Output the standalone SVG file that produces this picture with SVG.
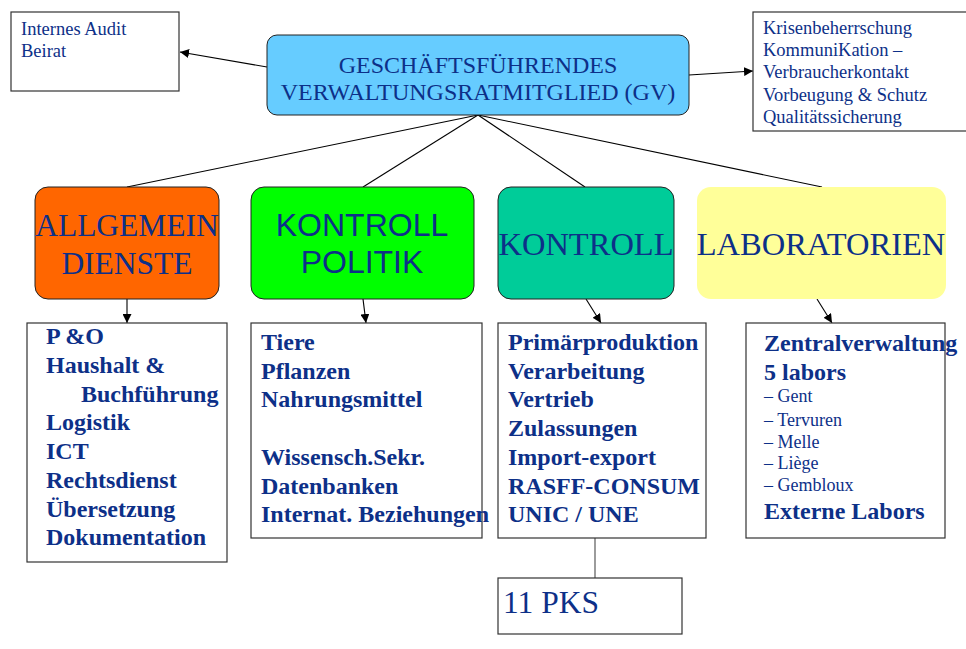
<svg xmlns="http://www.w3.org/2000/svg" width="966" height="649" viewBox="0 0 966 649">
<style>
.bx{fill:#fff;stroke:#333;stroke-width:1.2}
.rb{stroke:#222;stroke-width:1}
.t{font-family:"Liberation Serif","Times New Roman",serif;fill:#0D3088}
.s{font-family:"Liberation Sans",Arial,sans-serif;fill:#0D3088}
.b{font-weight:bold;font-size:24px}
.sm{font-size:18.5px}
.lb{font-size:18px}
.cn{stroke:#000;stroke-width:1.1;fill:none}
</style>
<defs>
<marker id="ar" viewBox="0 0 10 10" refX="10" refY="5" markerWidth="9" markerHeight="9" markerUnits="userSpaceOnUse" orient="auto">
<path d="M0,0 L10,5 L0,10 z" fill="#000"/>
</marker>
</defs>
<g id="connectors">
<line class="cn" x1="267" y1="67" x2="180" y2="52" marker-end="url(#ar)"/>
<line class="cn" x1="689" y1="75" x2="753" y2="71" marker-end="url(#ar)"/>
<line class="cn" x1="478" y1="115" x2="127" y2="187"/>
<line class="cn" x1="478" y1="115" x2="363" y2="187"/>
<line class="cn" x1="478" y1="115" x2="585" y2="187"/>
<line class="cn" x1="478" y1="115" x2="822" y2="187"/>
<line class="cn" x1="127" y1="299" x2="127" y2="323" marker-end="url(#ar)"/>
<line class="cn" x1="363" y1="299" x2="366" y2="323" marker-end="url(#ar)"/>
<line class="cn" x1="586" y1="299" x2="601" y2="323" marker-end="url(#ar)"/>
<line class="cn" x1="817" y1="299" x2="832" y2="323" marker-end="url(#ar)"/>
<line x1="595" y1="538" x2="595" y2="578" stroke="#666" stroke-width="1.3"/>
</g>
<g id="audit">
<rect class="bx" x="11" y="12" width="168" height="79"/>
<text class="t sm" x="21" y="35">Internes Audit</text>
<text class="t sm" x="21" y="57">Beirat</text>
</g>
<g id="gv">
<rect class="rb" x="267" y="35" width="422" height="80" rx="10" fill="#66CCFF"/>
<text class="t" x="478" y="73" font-size="24" text-anchor="middle">GESCHÄFTSFÜHRENDES</text>
<text class="t" x="478" y="100" font-size="24" text-anchor="middle">VERWALTUNGSRATMITGLIED (GV)</text>
</g>
<g id="krise">
<rect class="bx" x="753" y="12" width="220" height="119"/>
<text class="t sm" x="763" y="34">Krisenbeherrschung</text>
<text class="t sm" x="763" y="56">KommuniKation –</text>
<text class="t sm" x="763" y="78">Verbraucherkontakt</text>
<text class="t sm" x="763" y="101">Vorbeugung &amp; Schutz</text>
<text class="t sm" x="763" y="123">Qualitätssicherung</text>
</g>
<g id="allgemein">
<rect class="rb" x="35" y="187" width="184" height="112" rx="13" fill="#FF6600"/>
<text class="t" x="127" y="236" font-size="31.5" text-anchor="middle">ALLGEMEIN</text>
<text class="t" x="127" y="274" font-size="31.5" text-anchor="middle">DIENSTE</text>
</g>
<g id="kontrollpolitik">
<rect class="rb" x="251" y="187" width="223" height="112" rx="13" fill="#00FF00"/>
<text class="s" x="362" y="236" font-size="32" text-anchor="middle">KONTROLL</text>
<text class="s" x="362" y="273" font-size="32" text-anchor="middle">POLITIK</text>
</g>
<g id="kontroll">
<rect class="rb" x="498" y="187" width="176" height="112" rx="13" fill="#00CC99"/>
<text class="t" x="586" y="255" font-size="32.5" text-anchor="middle">KONTROLL</text>
</g>
<g id="laboratorien">
<rect x="697" y="187" width="249" height="112" rx="14" fill="#FFFF99"/>
<text class="t" x="821" y="255" font-size="32.5" text-anchor="middle">LABORATORIEN</text>
</g>
<g id="list1">
<rect class="bx" x="27" y="323" width="200" height="239"/>
<text class="t b" x="46" y="344">P &amp;O</text>
<text class="t b" x="46" y="373">Haushalt &amp;</text>
<text class="t b" x="81" y="402">Buchführung</text>
<text class="t b" x="46" y="430">Logistik</text>
<text class="t b" x="46" y="459">ICT</text>
<text class="t b" x="46" y="488">Rechtsdienst</text>
<text class="t b" x="46" y="517">Übersetzung</text>
<text class="t b" x="46" y="545">Dokumentation</text>
</g>
<g id="list2">
<rect class="bx" x="251" y="323" width="231" height="215"/>
<text class="t b" x="261" y="350">Tiere</text>
<text class="t b" x="261" y="379">Pflanzen</text>
<text class="t b" x="261" y="407">Nahrungsmittel</text>
<text class="t b" x="261" y="465">Wissensch.Sekr.</text>
<text class="t b" x="261" y="494">Datenbanken</text>
<text class="t b" x="261" y="522">Internat. Beziehungen</text>
</g>
<g id="list3">
<rect class="bx" x="498" y="323" width="208" height="215"/>
<text class="t b" x="508" y="350">Primärproduktion</text>
<text class="t b" x="508" y="379">Verarbeitung</text>
<text class="t b" x="508" y="407">Vertrieb</text>
<text class="t b" x="508" y="436">Zulassungen</text>
<text class="t b" x="508" y="465">Import-export</text>
<text class="t b" x="508" y="494">RASFF-CONSUM</text>
<text class="t b" x="508" y="522">UNIC / UNE</text>
</g>
<g id="list4">
<rect class="bx" x="746" y="323" width="199" height="215"/>
<text class="t b" x="764" y="351">Zentralverwaltung</text>
<text class="t b" x="764" y="380">5 labors</text>
<text class="t lb" x="764" y="402">– Gent</text>
<text class="t lb" x="764" y="426">– Tervuren</text>
<text class="t lb" x="764" y="448">– Melle</text>
<text class="t lb" x="764" y="469">– Liège</text>
<text class="t lb" x="764" y="491">– Gembloux</text>
<text class="t b" x="764" y="519">Externe Labors</text>
</g>
<g id="pks">
<rect class="bx" x="498" y="578" width="184" height="56"/>
<text class="t" x="503" y="613" font-size="31.5">11 PKS</text>
</g>
</svg>
